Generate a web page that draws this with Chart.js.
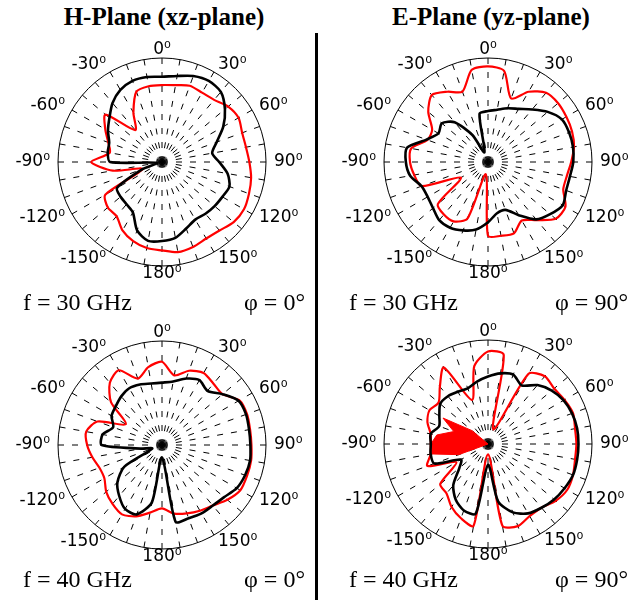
<!DOCTYPE html>
<html>
<head>
<meta charset="utf-8">
<script src="https://cdn.jsdelivr.net/npm/chart.js@4.4.0/dist/chart.umd.min.js"></script>
<style>
  body { margin: 0; width: 633px; height: 600px; overflow: hidden; background: #fff; position: relative; }
  canvas { position: absolute; }
  .title { position: absolute; top: 3px; width: 316px; text-align: center; font: bold 25px "Liberation Serif", "Times New Roman", serif; line-height: 28px; }
  .note { position: absolute; font: 24px "Liberation Serif", "Times New Roman", serif; line-height: 26px; white-space: nowrap; }
  .divider { position: absolute; left: 315px; top: 33px; width: 3px; height: 567px; background: #000; }
</style>
</head>
<body>
<div class="title" style="left:6px">H-Plane (xz-plane)</div>
<div class="title" style="left:333px">E-Plane (yz-plane)</div>
<div class="divider"></div>

<canvas id="h30" width="316" height="268" style="left:4px;top:28px"></canvas>
<canvas id="e30" width="316" height="268" style="left:330px;top:28px"></canvas>
<canvas id="h40" width="316" height="268" style="left:4px;top:311px"></canvas>
<canvas id="e40" width="316" height="268" style="left:330px;top:310px"></canvas>

<div class="note" style="left:23px;top:289px">f = 30 GHz</div>
<div class="note" style="right:328px;top:289px">φ = 0°</div>
<div class="note" style="left:349px;top:289px">f = 30 GHz</div>
<div class="note" style="right:5px;top:289px">φ = 90°</div>
<div class="note" style="left:23px;top:566px">f = 40 GHz</div>
<div class="note" style="right:328px;top:566px">φ = 0°</div>
<div class="note" style="left:349px;top:566px">f = 40 GHz</div>
<div class="note" style="right:5px;top:566px">φ = 90°</div>

<script>
// one spoke every 10 deg, clockwise from the top, labels every 30 deg
const angleLabels = [
  '0⁰', '', '', '30⁰', '', '', '60⁰', '', '', '90⁰', '', '', '120⁰', '', '', '150⁰', '', '',
  '180⁰', '', '', '-150⁰', '', '', '-120⁰', '', '', '-90⁰', '', '', '-60⁰', '', '', '-30⁰', '', ''
];

// normalised pattern radius (0 = centre, 1 = outer circle)
const h30Black = [0.82, 0.84, 0.88, 0.90, 0.88, 0.79, 0.68, 0.56, 0.49, 0.55, 0.64, 0.69,
                  0.67, 0.66, 0.65, 0.64, 0.68, 0.74, 0.76, 0.77, 0.70, 0.56, 0.53, 0.52,
                  0.50, 0.20, 0.05, 0.50, 0.53, 0.54, 0.60, 0.66, 0.74, 0.80, 0.83, 0.83];
const h30Red   = [0.74, 0.75, 0.78, 0.77, 0.78, 0.83, 0.85, 0.82, 0.82, 0.84, 0.87, 0.89,
                  0.91, 0.90, 0.86, 0.85, 0.87, 0.88, 0.85, 0.84, 0.81, 0.76, 0.68, 0.68,
                  0.63, 0.20, 0.48, 0.68, 0.51, 0.55, 0.63, 0.71, 0.40, 0.55, 0.72, 0.74];

const e30Black = [0.49, 0.51, 0.55, 0.59, 0.66, 0.75, 0.82, 0.83, 0.83, 0.82, 0.80, 0.80,
                  0.83, 0.78, 0.72, 0.59, 0.49, 0.50, 0.58, 0.66, 0.70, 0.73, 0.73, 0.69,
                  0.67, 0.68, 0.76, 0.79, 0.79, 0.63, 0.55, 0.58, 0.50, 0.30, 0.10, 0.47];
const e30Red   = [0.92, 0.89, 0.65, 0.78, 0.87, 0.88, 0.87, 0.86, 0.84, 0.80, 0.77, 0.77,
                  0.86, 0.85, 0.73, 0.65, 0.73, 0.72, 0.71, 0.12, 0.58, 0.66, 0.66, 0.63,
                  0.30, 0.68, 0.72, 0.75, 0.75, 0.62, 0.62, 0.75, 0.84, 0.78, 0.72, 0.90];

const h40Black = [0.60, 0.62, 0.68, 0.72, 0.68, 0.76, 0.85, 0.86, 0.85, 0.85, 0.86, 0.85,
                  0.83, 0.78, 0.76, 0.76, 0.75, 0.75, 0.12, 0.56, 0.71, 0.71, 0.64, 0.56,
                  0.42, 0.10, 0.20, 0.58, 0.58, 0.50, 0.56, 0.58, 0.61, 0.63, 0.62, 0.60];
const h40Red   = [0.80, 0.68, 0.76, 0.80, 0.77, 0.76, 0.86, 0.87, 0.86, 0.86, 0.87, 0.87,
                  0.87, 0.82, 0.76, 0.73, 0.70, 0.67, 0.61, 0.66, 0.73, 0.77, 0.74, 0.70,
                  0.64, 0.64, 0.68, 0.72, 0.74, 0.66, 0.40, 0.64, 0.78, 0.83, 0.68, 0.76];

const e40Black = [0.65, 0.69, 0.71, 0.65, 0.74, 0.80, 0.84, 0.86, 0.87, 0.87, 0.87, 0.87,
                  0.85, 0.83, 0.80, 0.77, 0.70, 0.56, 0.20, 0.68, 0.68, 0.62, 0.52, 0.36,
                  0.30, 0.55, 0.56, 0.55, 0.56, 0.50, 0.54, 0.60, 0.60, 0.58, 0.57, 0.61];
const e40Red   = [0.89, 0.87, 0.15, 0.78, 0.85, 0.83, 0.85, 0.87, 0.85, 0.85, 0.85, 0.87,
                  0.88, 0.85, 0.80, 0.80, 0.84, 0.80, 0.10, 0.80, 0.76, 0.70, 0.62, 0.60,
                  0.35, 0.62, 0.56, 0.55, 0.56, 0.62, 0.65, 0.62, 0.72, 0.85, 0.45, 0.76];
// solid red patch on the left of the 40 GHz E-plane trace
const e40RedFill = [0, 0, 0, 0, 0, 0, 0, 0, 0, 0, 0, 0,
                    0, 0, 0, 0, 0, 0, 0, 0, 0, 0, 0, 0,
                    0, 0.30, 0.55, 0.55, 0.50, 0.35, 0.50, 0.20, 0, 0, 0, 0];

// angle labels MATLAB style: middle baseline, pushed outward from the ring
const degreeLabels = {
  id: 'degreeLabels',
  afterDraw(chart) {
    const scale = chart.scales.r;
    const ctx = chart.ctx;
    const n = chart.data.labels.length;
    ctx.save();
    ctx.font = '17px "DejaVu Sans", sans-serif';
    ctx.fillStyle = '#000';
    ctx.textBaseline = 'middle';
    chart.data.labels.forEach((label, i) => {
      if (!label) return;
      const deg = i * 360 / n;
      const pos = scale.getPointPosition(i, scale.drawingArea + 8);
      ctx.textAlign = (deg === 0 || deg === 180) ? 'center' : (deg < 180 ? 'left' : 'right');
      ctx.fillText(label, pos.x, pos.y);
    });
    ctx.restore();
  }
};

function polarChart(id, black, red, redFill) {
  const datasets = [
    {data: black, borderColor: '#000', borderWidth: 2.6, fill: false},
    {data: red, borderColor: '#ff0000', borderWidth: 2.2, fill: false}
  ];
  if (redFill) {
    datasets.push({data: redFill, borderColor: '#ff0000', borderWidth: 1, tension: 0,
                   backgroundColor: '#ff0000', fill: 'origin'});
  }
  return new Chart(document.getElementById(id), {
    type: 'radar',
    data: {labels: angleLabels, datasets: datasets},
    options: {
      responsive: false,
      animation: false,
      layout: {padding: {left: 54, right: 54, top: 30, bottom: 30}},
      elements: {
        point: {radius: 0},
        line: {tension: 0.25, borderJoinStyle: 'round'}
      },
      plugins: {legend: {display: false}, tooltip: {enabled: false}},
      scales: {
        r: {
          min: 0,
          max: 1,
          ticks: {display: false, stepSize: 1},
          grid: {circular: true, color: '#000', lineWidth: 1},
          angleLines: {color: '#000', lineWidth: 1, borderDash: [6, 8]},
          pointLabels: {display: false}
        }
      }
    },
    plugins: [degreeLabels]
  });
}

polarChart('h30', h30Black, h30Red);
polarChart('e30', e30Black, e30Red);
polarChart('h40', h40Black, h40Red);
polarChart('e40', e40Black, e40Red, e40RedFill);
</script>
</body>
</html>
